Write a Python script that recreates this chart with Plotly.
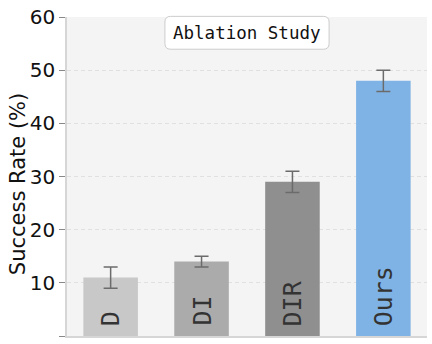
import plotly.graph_objects as go

methods = ["D", "DI", "DIR", "Ours"]
success = [11, 14, 29, 48]
err = [2, 1, 2, 2]
colors = ["#c8c8c8", "#ababab", "#8f8f8f", "#80b3e5"]

fig = go.Figure()
fig.add_trace(go.Bar(
    x=list(range(len(methods))), y=success, width=0.6,
    marker=dict(color=colors, line=dict(width=0)),
    error_y=dict(type="data", array=err, color="#6b6b6b", thickness=1.5, width=7),
    hoverinfo="skip",
))

# method names written vertically inside each bar
for i, name in enumerate(methods):
    fig.add_annotation(x=i, y=0, text=name, showarrow=False, textangle=-90,
                       xanchor="center", yanchor="bottom", yshift=8,
                       font=dict(family="DejaVu Sans Mono", size=25, color="#333333"))

# rounded title box
x0, x1, y0, y1, r = 0.272, 0.728, 0.899, 1.002, 0.016
ry = r * 360 / 323
fig.add_shape(type="path", xref="paper", yref="paper",
              path=(f"M {x0+r},{y0} L {x1-r},{y0} Q {x1},{y0} {x1},{y0+ry} "
                    f"L {x1},{y1-ry} Q {x1},{y1} {x1-r},{y1} L {x0+r},{y1} "
                    f"Q {x0},{y1} {x0},{y1-ry} L {x0},{y0+ry} Q {x0},{y0} {x0+r},{y0} Z"),
              fillcolor="white", line=dict(color="#cccccc", width=1), layer="above")
fig.add_annotation(xref="paper", yref="paper", x=0.5, y=(y0 + y1) / 2,
                   text="Ablation Study", showarrow=False,
                   xanchor="center", yanchor="middle",
                   font=dict(family="DejaVu Sans Mono", size=17.5, color="#111111"))

# y-axis label
fig.add_annotation(xref="paper", yref="paper", x=-49 / 360, y=0.476,
                   text="Success Rate (%)", showarrow=False, textangle=-90,
                   xanchor="center", yanchor="middle",
                   font=dict(family="DejaVu Sans", size=21, color="#111111"))

fig.update_layout(
    width=432, height=344,
    margin=dict(l=67, r=5, t=13, b=8),
    paper_bgcolor="white", plot_bgcolor="#f4f4f4",
    showlegend=False,
    xaxis=dict(range=[-0.48, 3.48], showticklabels=False, ticks="", showgrid=False,
               zeroline=False, showline=True, linecolor="#d6d6d6", linewidth=1.5),
    yaxis=dict(range=[0, 60], dtick=10, ticks="outside", ticklen=6, tickcolor="#888888",
               tickfont=dict(family="DejaVu Sans", size=20, color="#111111"),
               showgrid=True, gridcolor="#e0e0e0", griddash="4px,3px", gridwidth=1,
               zeroline=False, showline=True, linecolor="#d6d6d6", linewidth=1.5),
)

fig.write_html("out.html")
